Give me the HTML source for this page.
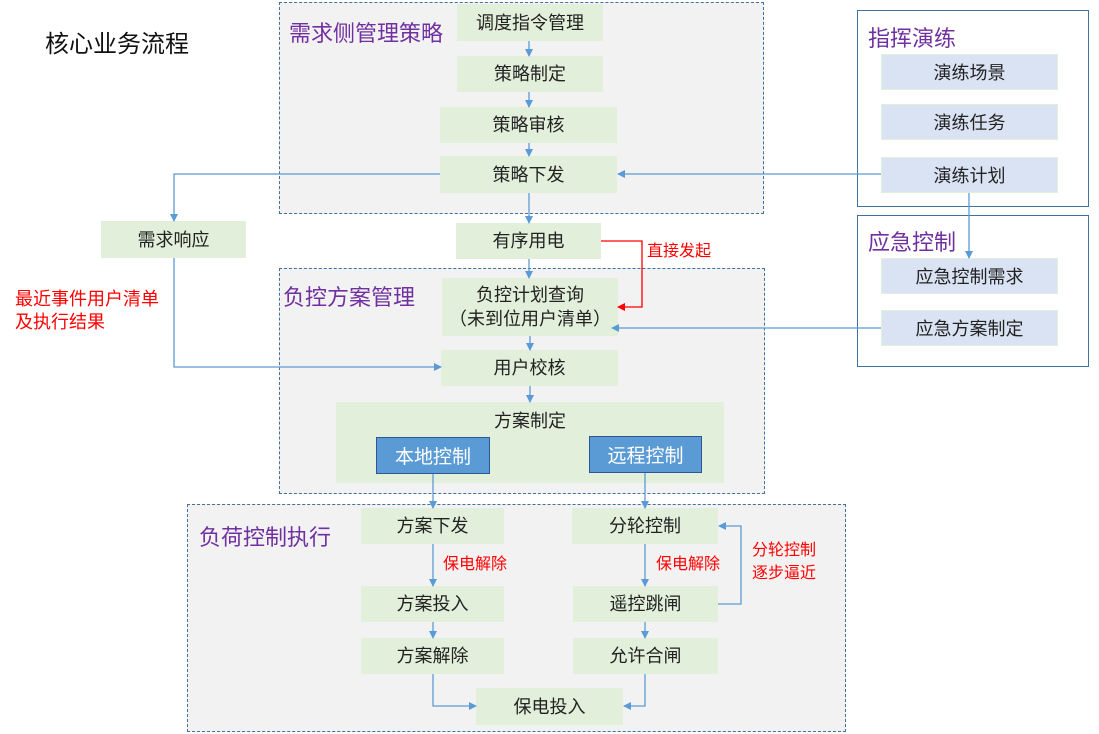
<!DOCTYPE html>
<html><head><meta charset="utf-8"><style>
body{margin:0;width:1099px;height:734px;background:#fff;position:relative;overflow:hidden;font-family:"Liberation Sans","Noto Sans CJK SC",sans-serif;}
.a{position:absolute;box-sizing:border-box;}
.g{background:#f2f2f2;border:1px dashed #41719c;}
.s{background:#fff;border:1.5px solid #41719c;}
.b{background:#e2efda;display:flex;align-items:center;justify-content:center;font-size:18px;color:#222;text-align:center;line-height:24px;}
.p{background:#dae3f3;border:1px solid #e2efda;display:flex;align-items:center;justify-content:center;font-size:18px;color:#222;}
.bl{background:#5b9bd5;border:1.5px solid #2f5597;color:#fff;display:flex;align-items:center;justify-content:center;font-size:19px;}
.t{position:absolute;color:#7030a0;font-size:22px;white-space:nowrap;}
.r{position:absolute;color:#ff0000;font-size:16px;white-space:nowrap;line-height:23px;}
svg{position:absolute;left:0;top:0;}
</style></head><body>
<div class="a" style="left:45px;top:24px;font-size:24px;color:#111;">核心业务流程</div>

<div class="a g" style="left:279px;top:2px;width:485px;height:212px;"></div>
<div class="a g" style="left:279px;top:268px;width:486px;height:226px;"></div>
<div class="a g" style="left:187px;top:504px;width:659px;height:228px;"></div>
<div class="a s" style="left:857px;top:10px;width:232px;height:197px;"></div>
<div class="a s" style="left:857px;top:215px;width:232px;height:152px;"></div>

<div class="t" style="left:289px;top:16px;">需求侧管理策略</div>
<div class="t" style="left:283px;top:280px;">负控方案管理</div>
<div class="t" style="left:199px;top:520px;">负荷控制执行</div>
<div class="t" style="left:868px;top:21px;">指挥演练</div>
<div class="t" style="left:868px;top:225px;">应急控制</div>

<div class="a b" style="left:457px;top:4px;width:146px;height:37px;">调度指令管理</div>
<div class="a b" style="left:457px;top:56px;width:146px;height:36px;">策略制定</div>
<div class="a b" style="left:440px;top:107px;width:177px;height:36px;">策略审核</div>
<div class="a b" style="left:440px;top:156px;width:177px;height:37px;">策略下发</div>
<div class="a b" style="left:456px;top:223px;width:145px;height:36px;">有序用电</div>
<div class="a b" style="left:101px;top:221px;width:145px;height:37px;">需求响应</div>
<div class="a b" style="left:442px;top:278px;width:176px;height:58px;">负控计划查询<br>（未到位用户清单）</div>
<div class="a b" style="left:441px;top:350px;width:177px;height:36px;">用户校核</div>
<div class="a b" style="left:336px;top:402px;width:388px;height:81px;align-items:flex-start;padding-top:7px;">方案制定</div>
<div class="a bl" style="left:376px;top:437px;width:114px;height:37px;">本地控制</div>
<div class="a bl" style="left:589px;top:436px;width:113px;height:37px;">远程控制</div>

<div class="a b" style="left:361px;top:508px;width:143px;height:36px;">方案下发</div>
<div class="a b" style="left:572px;top:508px;width:146px;height:36px;">分轮控制</div>
<div class="a b" style="left:361px;top:586px;width:143px;height:36px;">方案投入</div>
<div class="a b" style="left:573px;top:586px;width:145px;height:36px;">遥控跳闸</div>
<div class="a b" style="left:361px;top:638px;width:143px;height:36px;">方案解除</div>
<div class="a b" style="left:573px;top:638px;width:145px;height:36px;">允许合闸</div>
<div class="a b" style="left:476px;top:688px;width:147px;height:37px;">保电投入</div>

<div class="a p" style="left:881px;top:54px;width:177px;height:36px;">演练场景</div>
<div class="a p" style="left:881px;top:104px;width:177px;height:36px;">演练任务</div>
<div class="a p" style="left:881px;top:157px;width:177px;height:36px;">演练计划</div>
<div class="a p" style="left:881px;top:258px;width:177px;height:36px;">应急控制需求</div>
<div class="a p" style="left:881px;top:310px;width:177px;height:36px;">应急方案制定</div>

<div class="r" style="left:647px;top:240px;">直接发起</div>
<div class="r" style="left:15px;top:288px;font-size:18px;">最近事件用户清单<br>及执行结果</div>
<div class="r" style="left:443px;top:553px;">保电解除</div>
<div class="r" style="left:656px;top:553px;">保电解除</div>
<div class="r" style="left:752px;top:539px;">分轮控制<br>逐步逼近</div>

<svg width="1099" height="734" viewBox="0 0 1099 734">
<defs>
<marker id="m" markerWidth="8" markerHeight="8" refX="7" refY="4" orient="auto" markerUnits="userSpaceOnUse"><path d="M0,0 L8,4 L0,8 z" fill="#5b9bd5"/></marker>
<marker id="mr" markerWidth="8" markerHeight="8" refX="7" refY="4" orient="auto" markerUnits="userSpaceOnUse"><path d="M0,0 L8,4 L0,8 z" fill="#ff0000"/></marker>
</defs>
<g stroke="#5b9bd5" stroke-width="1.3" fill="none" marker-end="url(#m)">
<path d="M529,41 V56"/>
<path d="M529,92 V107"/>
<path d="M529,143 V156"/>
<path d="M529,193 V223"/>
<path d="M529,259 V278"/>
<path d="M530,336 V350"/>
<path d="M530,386 V402"/>
<path d="M440,174 H174 V221"/>
<path d="M174,258 V367 H441"/>
<path d="M881,174 H618"/>
<path d="M969,193 V258"/>
<path d="M881,328 H612"/>
<path d="M433,474 V508"/>
<path d="M645,473 V508"/>
<path d="M433,544 V586"/>
<path d="M645,544 V586"/>
<path d="M433,622 V638"/>
<path d="M645,622 V638"/>
<path d="M718,604 H741 V526 H719"/>
<path d="M433,674 V706 H476"/>
<path d="M645,674 V706 H624"/>
</g>
<path d="M601,241 H642 V307 H618" stroke="#ff0000" stroke-width="1.3" fill="none" marker-end="url(#mr)"/>
</svg>
</body></html>
